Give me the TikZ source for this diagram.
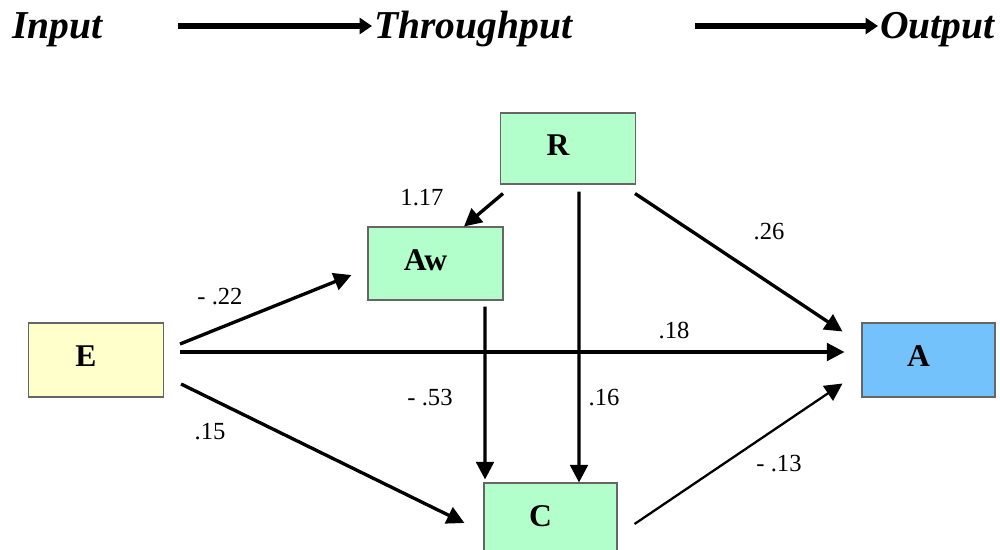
\documentclass[tikz,border=0pt]{standalone}
\usepackage{fontspec}
\setmainfont{Liberation Serif}
\usetikzlibrary{arrows.meta, positioning}

\definecolor{mint}{RGB}{178,255,204}
\definecolor{cream}{RGB}{255,255,204}
\definecolor{sky}{RGB}{115,194,251}

\tikzset{
  box/.style = {draw=black!60, line width=0.6pt, minimum width=2.7cm, minimum height=1.46cm,
                inner sep=0pt, text depth=0.15cm, font=\fontsize{18}{18}\bfseries\selectfont,
                execute at end node=\hspace*{0.4cm}},
  link/.style = {-{Triangle[length=10pt,width=10pt]}, line width=1.9pt},
  flow/.style = {-{Triangle[length=7pt,width=9pt]}, line width=3pt},
  coef/.style = {font=\fontsize{14}{16}\selectfont, inner sep=0pt},
  stage/.style = {font=\fontsize{22.5}{26}\bfseries\itshape\selectfont, inner sep=0pt, anchor=base west},
}

\begin{document}
\begin{tikzpicture} [x=0.02cm, y=-0.02cm]

\useasboundingbox (0,0) rectangle (1000,549);
\clip (0,0) rectangle (1000,549);

% stages
\node (inp)  [stage] at (12,38)  {Input};
\node (thru) [stage] at (374,38) {Throughput};
\node (outp) [stage] at (880,38) {Output};

\draw [flow] ([xshift=1.5cm,yshift=0.24cm]inp.base east) -- ([xshift=-0.04cm,yshift=0.24cm]thru.base west);
\draw [flow] ([xshift=2.46cm,yshift=0.24cm]thru.base east) -- ([xshift=-0.04cm,yshift=0.24cm]outp.base west);

% variables
\node (R)  [box, fill=mint, minimum height=1.42cm] at (568,148.5) {R};
\node (Aw) [box, fill=mint] at (435.5,263.5) {Aw};
\node (E)  [box, fill=cream, minimum height=1.48cm] at (96,360) {E};
\node (A)  [box, fill=sky, minimum width=2.66cm, minimum height=1.48cm] at (928.5,360) {A};
\node (C)  [box, fill=mint, minimum width=2.66cm] at (550.5,519.5) {C};

% paths
\draw [link] ([xshift=0.32cm,yshift=0.32cm]E.east) -- ([xshift=-0.32cm,yshift=-0.23cm]Aw.west);
\draw [link] ([xshift=0.32cm,yshift=0.16cm]E.east) -- ([xshift=-0.34cm,yshift=0.16cm]A.west);
\draw [link] ([xshift=0.34cm,yshift=-0.48cm]E.east) -- ([xshift=-0.38cm,yshift=-0.07cm]C.west);
\draw [link] ([xshift=0.06cm,yshift=-0.18cm]R.south west) -- ([xshift=0.57cm]Aw.north);
\draw [link] ([xshift=0.22cm,yshift=-0.14cm]R.south) -- ([xshift=0.57cm]C.north);
\draw [link] ([xshift=0.99cm,yshift=-0.12cm]Aw.south) -- ([xshift=-1.31cm,yshift=0.06cm]C.north);
\draw [link] ([xshift=-0.02cm,yshift=-0.18cm]R.south east) -- ([xshift=-0.38cm,yshift=-0.18cm]A.north west);
\draw [link, line width=1.3pt] ([xshift=0.34cm,yshift=-0.09cm]C.east) -- ([xshift=-0.38cm,yshift=0.28cm]A.south west);

% coefficients
\node (c117) [coef] at (422,198) {1.17};
\node (c22)  [coef] at (220,297) {- .22};
\node (c26)  [coef] at (769,232) {.26};
\node (c18)  [coef] at (674,330) {.18};
\node (c53)  [coef] at (430,398) {- .53};
\node (c16)  [coef] at (604,398) {.16};
\node (c15)  [coef] at (210,432) {.15};
\node (c13)  [coef] at (779,464) {- .13};

\end{tikzpicture}
\end{document}
